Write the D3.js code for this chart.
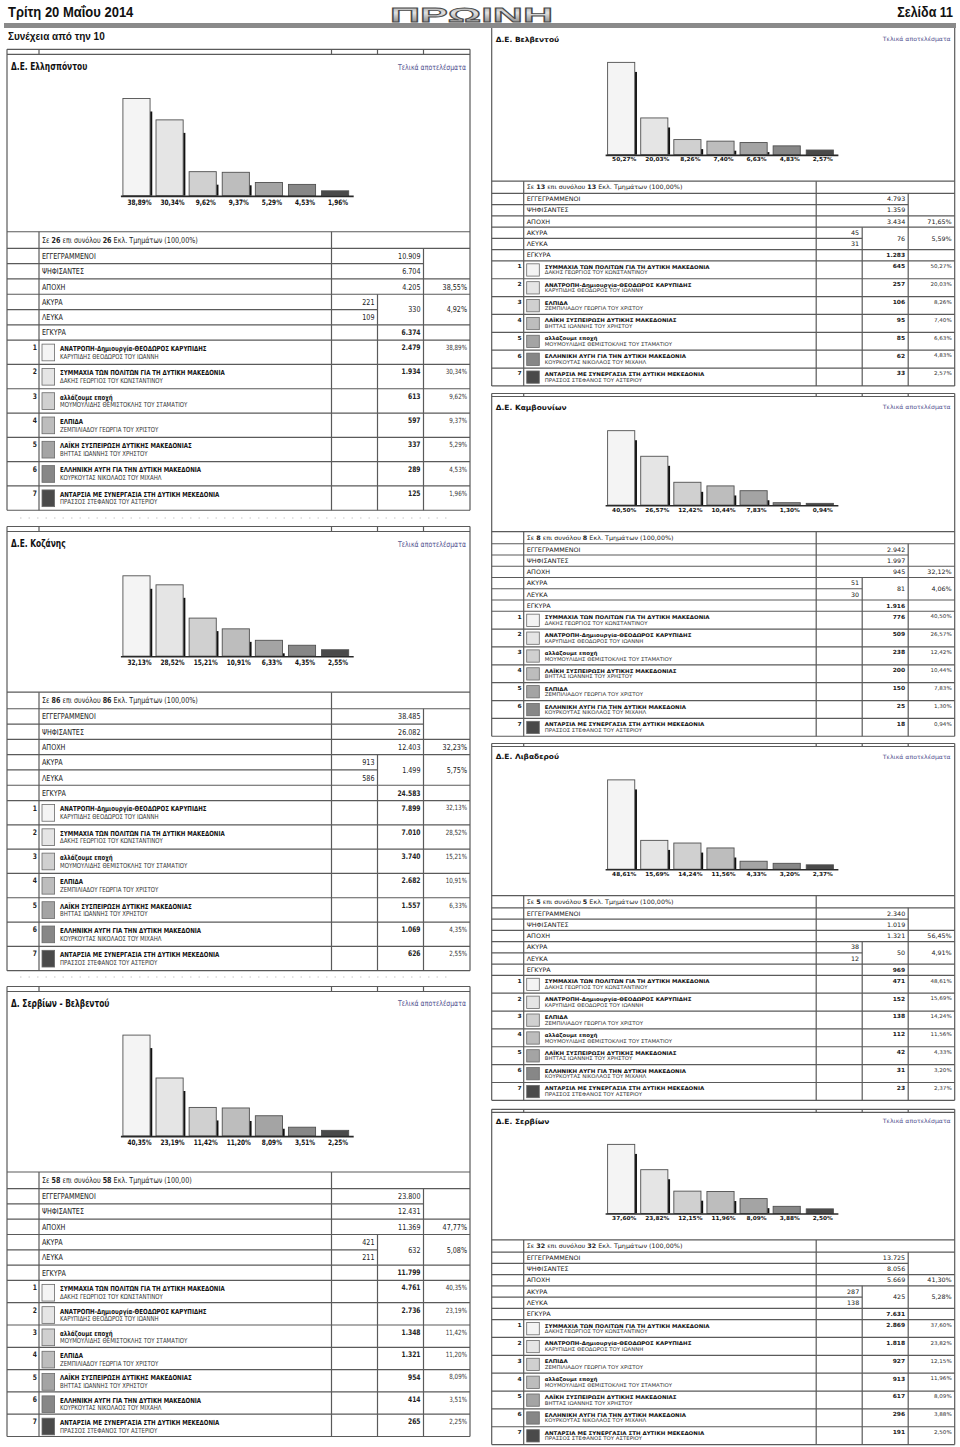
<!DOCTYPE html>
<html><head><meta charset="utf-8">
<script src="https://cdn.jsdelivr.net/npm/d3@7"></script>
<style>html,body{margin:0;padding:0;background:#fff}svg{display:block}</style>
</head><body><svg id="page" width="960" height="1447"></svg>
<script>
// ---------- DATA ----------
const partyNames = ["ΑΝΑΤΡΟΠΗ-Δημιουργία-ΘΕΟΔΩΡΟΣ ΚΑΡΥΠΙΔΗΣ","ΣΥΜΜΑΧΙΑ ΤΩΝ ΠΟΛΙΤΩΝ ΓΙΑ ΤΗ ΔΥΤΙΚΗ ΜΑΚΕΔΟΝΙΑ","αλλάζουμε εποχή","ΕΛΠΙΔΑ","ΛΑΪΚΗ ΣΥΣΠΕΙΡΩΣΗ ΔΥΤΙΚΗΣ ΜΑΚΕΔΟΝΙΑΣ","ΕΛΛΗΝΙΚΗ ΑΥΓΗ ΓΙΑ ΤΗΝ ΔΥΤΙΚΗ ΜΑΚΕΔΟΝΙΑ","ΑΝΤΑΡΣΙΑ ΜΕ ΣΥΝΕΡΓΑΣΙΑ ΣΤΗ ΔΥΤΙΚΗ ΜΕΚΕΔΟΝΙΑ"];
const candidateNames = ["ΚΑΡΥΠΙΔΗΣ ΘΕΟΔΩΡΟΣ ΤΟΥ ΙΩΑΝΝΗ","ΔΑΚΗΣ ΓΕΩΡΓΙΟΣ ΤΟΥ ΚΩΝΣΤΑΝΤΙΝΟΥ","ΜΟΥΜΟΥΛΙΔΗΣ ΘΕΜΙΣΤΟΚΛΗΣ ΤΟΥ ΣΤΑΜΑΤΙΟΥ","ΖΕΜΠΙΛΙΑΔΟΥ ΓΕΩΡΓΙΑ ΤΟΥ ΧΡΙΣΤΟΥ","ΒΗΤΤΑΣ ΙΩΑΝΝΗΣ ΤΟΥ ΧΡΗΣΤΟΥ","ΚΟΥΡΚΟΥΤΑΣ ΝΙΚΟΛΑΟΣ ΤΟΥ ΜΙΧΑΗΛ","ΠΡΑΣΣΟΣ ΣΤΕΦΑΝΟΣ ΤΟΥ ΑΣΤΕΡΙΟΥ"];
const infoLabels = ["ΕΓΓΕΓΡΑΜΜΕΝΟΙ","ΨΗΦΙΣΑΝΤΕΣ","ΑΠΟΧΗ","ΑΚΥΡΑ","ΛΕΥΚΑ","ΕΓΚΥΡΑ"];
const shades = ["#f4f4f4","#e5e5e5","#d0d0d0","#bdbdbd","#a4a4a4","#878787","#4a4a4a"];

// stats: [sections, registered, voted, abstained, abst%, invalid, blank, invalid+blank, inv%, valid]
const ellispontouOrder = [0,1,2,3,4,5,6];
const ellispontouVotes = [2479,1934,613,597,337,289,125];
const ellispontouPct = [38.89,30.34,9.62,9.37,5.29,4.53,1.96];
const ellispontouStats = [26,10909,6704,4205,38.55,221,109,330,4.92,6374];

const kozanisOrder = [0,1,2,3,4,5,6];
const kozanisVotes = [7899,7010,3740,2682,1557,1069,626];
const kozanisPct = [32.13,28.52,15.21,10.91,6.33,4.35,2.55];
const kozanisStats = [86,38485,26082,12403,32.23,913,586,1499,5.75,24583];

const serviaVelventoOrder = [1,0,2,3,4,5,6];
const serviaVelventoVotes = [4761,2736,1348,1321,954,414,265];
const serviaVelventoPct = [40.35,23.19,11.42,11.20,8.09,3.51,2.25];
const serviaVelventoStats = [58,23800,12431,11369,47.77,421,211,632,5.08,11799];

const velventouOrder = [1,0,3,4,2,5,6];
const velventouVotes = [645,257,106,95,85,62,33];
const velventouPct = [50.27,20.03,8.26,7.40,6.63,4.83,2.57];
const velventouStats = [13,4793,1359,3434,71.65,45,31,76,5.59,1283];

const kamvouniaOrder = [1,0,2,4,3,5,6];
const kamvouniaVotes = [776,509,238,200,150,25,18];
const kamvouniaPct = [40.50,26.57,12.42,10.44,7.83,1.30,0.94];
const kamvouniaStats = [8,2942,1997,945,32.12,51,30,81,4.06,1916];

const livaderouOrder = [1,0,3,2,4,5,6];
const livaderouVotes = [471,152,138,112,42,31,23];
const livaderouPct = [48.61,15.69,14.24,11.56,4.33,3.20,2.37];
const livaderouStats = [5,2340,1019,1321,56.45,38,12,50,4.91,969];

const servionOrder = [1,0,3,2,4,5,6];
const servionVotes = [2869,1818,927,913,617,296,191];
const servionPct = [37.60,23.82,12.15,11.96,8.09,3.88,2.50];
const servionStats = [32,13725,8056,5669,41.30,287,138,425,5.28,7631];

const panels = [
  {title:"Δ.Ε. Ελλησπόντου", x0:7, top:49.3, titleY:66.7, s:1, strip:true, order:ellispontouOrder, votes:ellispontouVotes, pct:ellispontouPct, stats:ellispontouStats, suffix:"(100,00%)"},
  {title:"Δ.Ε. Κοζάνης", x0:7, top:526.5, titleY:544, s:1, strip:true, order:kozanisOrder, votes:kozanisVotes, pct:kozanisPct, stats:kozanisStats, suffix:"(100,00%)"},
  {title:"Δ. Σερβίων - Βελβεντού", x0:7, top:986.5, titleY:1003.3, s:1, strip:true, partyH:22.3, order:serviaVelventoOrder, votes:serviaVelventoVotes, pct:serviaVelventoPct, stats:serviaVelventoStats, suffix:"(100,00)"},
  {title:"Δ.Ε. Βελβεντού", x0:491.7, top:28, titleY:39, s:0.735, strip:false, order:velventouOrder, votes:velventouVotes, pct:velventouPct, stats:velventouStats, suffix:"(100,00%)"},
  {title:"Δ.Ε. Καμβουνίων", x0:491.7, top:393.5, titleY:407.3, s:0.735, strip:true, order:kamvouniaOrder, votes:kamvouniaVotes, pct:kamvouniaPct, stats:kamvouniaStats, suffix:"(100,00%)"},
  {title:"Δ.Ε. Λιβαδερού", x0:491.7, top:743.5, titleY:756.5, s:0.735, strip:true, order:livaderouOrder, votes:livaderouVotes, pct:livaderouPct, stats:livaderouStats, suffix:"(100,00%)"},
  {title:"Δ.Ε. Σερβίων", x0:491.7, top:1109.3, titleY:1121, s:0.735, strip:true, order:servionOrder, votes:servionVotes, pct:servionPct, stats:servionStats, suffix:"(100,00%)"}
];

// ---------- HELPERS ----------
const loc = d3.formatLocale({decimal:",", thousands:".", grouping:[3], currency:["","€"]});
const fInt = loc.format(",d");
const fPct = v => loc.format(".2f")(v) + "%";
const svg = d3.select("#page");
const LINE = "#5a5a5a";

function txt(g, x, y, str, o = {}) {
  return g.append("text")
    .attr("transform", `translate(${x},${y}) scale(1,${o.sy || 1})`)
    .attr("font-family", o.family || "DejaVu Sans")
    .attr("font-size", o.size || 6.4)
    .attr("font-weight", o.weight || "normal")
    .attr("text-anchor", o.anchor || "start")
    .attr("fill", o.fill || "#222")
    .attr("dy", "0.36em")
    .text(str);
}
function hl(g, xa, xb, y, w) { g.append("line").attr("x1", xa).attr("x2", xb).attr("y1", y).attr("y2", y).attr("stroke", LINE).attr("stroke-width", w || 1.2); }
function vl(g, x, ya, yb, w) { g.append("line").attr("x1", x).attr("x2", x).attr("y1", ya).attr("y2", yb).attr("stroke", LINE).attr("stroke-width", w || 1.2); }

// ---------- HEADER ----------
const defs = svg.append("defs");
const lg = defs.append("linearGradient").attr("id", "logoGrad").attr("x1", 0).attr("y1", 0).attr("x2", 0).attr("y2", 1);
lg.append("stop").attr("offset", "0%").attr("stop-color", "#8a8a8a");
lg.append("stop").attr("offset", "45%").attr("stop-color", "#e2e2e2");
lg.append("stop").attr("offset", "100%").attr("stop-color", "#707070");

txt(svg, 8, 12, "Τρίτη 20 Μαΐου 2014", {family:"Liberation Sans", size:13, weight:"bold", sy:1.14, fill:"#111"});
txt(svg, 953, 12, "Σελίδα 11", {family:"Liberation Sans", size:12.5, weight:"bold", sy:1.14, anchor:"end", fill:"#111"});
svg.append("text").attr("x", 390).attr("y", 21.5).attr("textLength", 163).attr("lengthAdjust", "spacingAndGlyphs")
  .attr("font-family", "Liberation Sans").attr("font-weight", "bold").attr("font-size", 21)
  .attr("fill", "url(#logoGrad)").attr("stroke", "#4a4a4a").attr("stroke-width", 0.8).text("ΠΡΩΙΝΗ");
svg.append("rect").attr("x", 4).attr("y", 23).attr("width", 952).attr("height", 5).attr("fill", "#8a8a8a");
txt(svg, 8, 36, "Συνέχεια από την 10", {family:"Liberation Sans", size:10, weight:"bold", sy:1.1, fill:"#111"});

// faint scan dots between left panels
[518, 977].forEach(yy => svg.append("line").attr("x1", 20).attr("x2", 450).attr("y1", yy).attr("y2", yy)
  .attr("stroke", "#c8c8c8").attr("stroke-width", 1).attr("stroke-dasharray", "1.5,7"));

// ---------- PANELS ----------
const W = 463;
panels.forEach(p => {
  const g = svg.append("g");
  const s = p.s, sy = 1.28 * s;
  const x0 = p.x0, x1 = x0 + W, c1 = x0 + 32, c2 = x0 + 324.5, c3 = x0 + 370.5, c4 = x0 + 416.5;

  // chart scales
  const maxPct = d3.max(p.pct);
  const baseline = p.titleY + 31.8 * s + maxPct * 2.5 * s;
  const y = d3.scaleLinear().domain([0, 100]).range([baseline, baseline - 250 * s]);
  const x = d3.scaleBand().domain(d3.range(p.pct.length)).range([x0 + 112.6, x0 + 345]).paddingInner(0.18).paddingOuter(0.1);
  const bw = x.bandwidth();

  // table geometry
  const tTop = baseline + 36 * s;
  const hdr = 16.6 * s, info = 15.3 * s, party = p.partyH || 24.3 * s;
  const r = [tTop, tTop + hdr];
  for (let i = 1; i <= 6; i++) r.push(tTop + hdr + i * info);
  const pTop = r[7];
  for (let k = 1; k <= 7; k++) r.push(pTop + k * party);
  const bottom = r[14];

  // frame & strip
  const stripH = s === 1 ? 5 : 3;
  if (p.strip) {
    hl(g, x0, x1, p.top);
    hl(g, x0, x1, p.top + stripH);
    [c1, c2, c3, c4].forEach(cx => vl(g, cx, p.top, p.top + stripH));
  }
  vl(g, x0, p.top, bottom);
  vl(g, x1, p.top, bottom);

  // title
  txt(g, x0 + 4, p.titleY, p.title, {size:7.5, weight:"bold", sy:sy, fill:"#111"});
  txt(g, x1 - 4, p.titleY, "Τελικά αποτελέσματα", {size:6.2, sy:sy, anchor:"end", fill:"#4f4f8e"});

  // bars
  g.selectAll("rect.shadow").data(p.pct).join("rect").attr("class", "shadow")
    .filter(d => baseline - y(d) > 13 * s)
    .attr("x", (d, i) => x(i) + bw).attr("y", d => y(d) + 13 * s)
    .attr("width", 2.2).attr("height", d => baseline - y(d) - 13 * s).attr("fill", "#111");
  g.selectAll("rect.bar").data(p.pct).join("rect").attr("class", "bar")
    .attr("x", (d, i) => x(i)).attr("y", d => y(d))
    .attr("width", bw).attr("height", d => baseline - y(d))
    .attr("fill", (d, i) => shades[i]).attr("stroke", "#505050").attr("stroke-width", 0.9);
  g.append("line").attr("x1", x(0) - 2).attr("x2", x(6) + bw + 5).attr("y1", baseline + 0.6).attr("y2", baseline + 0.6)
    .attr("stroke", "#2a2a2a").attr("stroke-width", 1.6);
  p.pct.forEach((d, i) => txt(g, x(i) + bw / 2 + 3, baseline + 6.5 * s, fPct(d), {size:5.8, weight:"bold", sy:sy, anchor:"middle", fill:"#111"}));

  // table lines
  hl(g, x0, x1, r[0]); hl(g, x0, x1, r[1]);
  hl(g, x0, c4, r[2]); hl(g, x0, x1, r[3]); hl(g, x0, x1, r[4]);
  hl(g, x0, c3, r[5]);
  for (let i = 6; i <= 14; i++) hl(g, x0, x1, r[i]);
  vl(g, c1, r[0], bottom); vl(g, c2, r[0], bottom);
  vl(g, c3, r[4], bottom); vl(g, c4, r[1], bottom);

  // header row
  const ht = txt(g, c1 + 3, (r[0] + r[1]) / 2, "", {size:6.4, sy:sy});
  ht.append("tspan").text("Σε ");
  ht.append("tspan").attr("font-weight", "bold").text(p.stats[0]);
  ht.append("tspan").text(" επι συνόλου ");
  ht.append("tspan").attr("font-weight", "bold").text(p.stats[0]);
  ht.append("tspan").text(" Εκλ. Τμημάτων " + p.suffix);

  // info rows
  infoLabels.forEach((lab, i) => txt(g, c1 + 3, (r[i + 1] + r[i + 2]) / 2, lab, {size:6.4, sy:sy}));
  const mid = i => (r[i] + r[i + 1]) / 2;
  const st = p.stats;
  txt(g, c4 - 3, mid(1), fInt(st[1]), {size:6.4, sy:sy, anchor:"end"});
  txt(g, c4 - 3, mid(2), fInt(st[2]), {size:6.4, sy:sy, anchor:"end"});
  txt(g, c4 - 3, mid(3), fInt(st[3]), {size:6.4, sy:sy, anchor:"end"});
  txt(g, x1 - 3, mid(3), fPct(st[4]), {size:6.4, sy:sy, anchor:"end"});
  txt(g, c3 - 3, mid(4), fInt(st[5]), {size:6.4, sy:sy, anchor:"end"});
  txt(g, c3 - 3, mid(5), fInt(st[6]), {size:6.4, sy:sy, anchor:"end"});
  txt(g, c4 - 3, r[5], fInt(st[7]), {size:6.4, sy:sy, anchor:"end"});
  txt(g, x1 - 3, r[5], fPct(st[8]), {size:6.4, sy:sy, anchor:"end"});
  txt(g, c4 - 3, mid(6), fInt(st[9]), {size:6, weight:"bold", sy:sy, anchor:"end"});

  // party rows
  p.order.forEach((pi, k) => {
    const rt = r[7 + k];
    txt(g, c1 - 2, rt + 7.3 * s, String(k + 1), {size:6, weight:"bold", sy:sy, anchor:"end"});
    g.append("rect").attr("x", c1 + 3).attr("y", rt + 4 * s).attr("width", 12.6).attr("height", 16.7 * s)
      .attr("fill", shades[k]).attr("stroke", "#6a6a6a").attr("stroke-width", 0.8);
    txt(g, c1 + 21, rt + 8.3 * s, partyNames[pi], {size:5.5, weight:"bold", sy:sy, fill:"#111"});
    txt(g, c1 + 21, rt + 16 * s, candidateNames[pi], {size:5.4, sy:sy, fill:"#333"});
    txt(g, c4 - 3, rt + 7.3 * s, fInt(p.votes[k]), {size:6, weight:"bold", sy:sy, anchor:"end"});
    txt(g, x1 - 3, rt + 7.3 * s, fPct(p.pct[k]), {size:5.6, sy:sy, anchor:"end", fill:"#333"});
  });
});
</script></body></html>
